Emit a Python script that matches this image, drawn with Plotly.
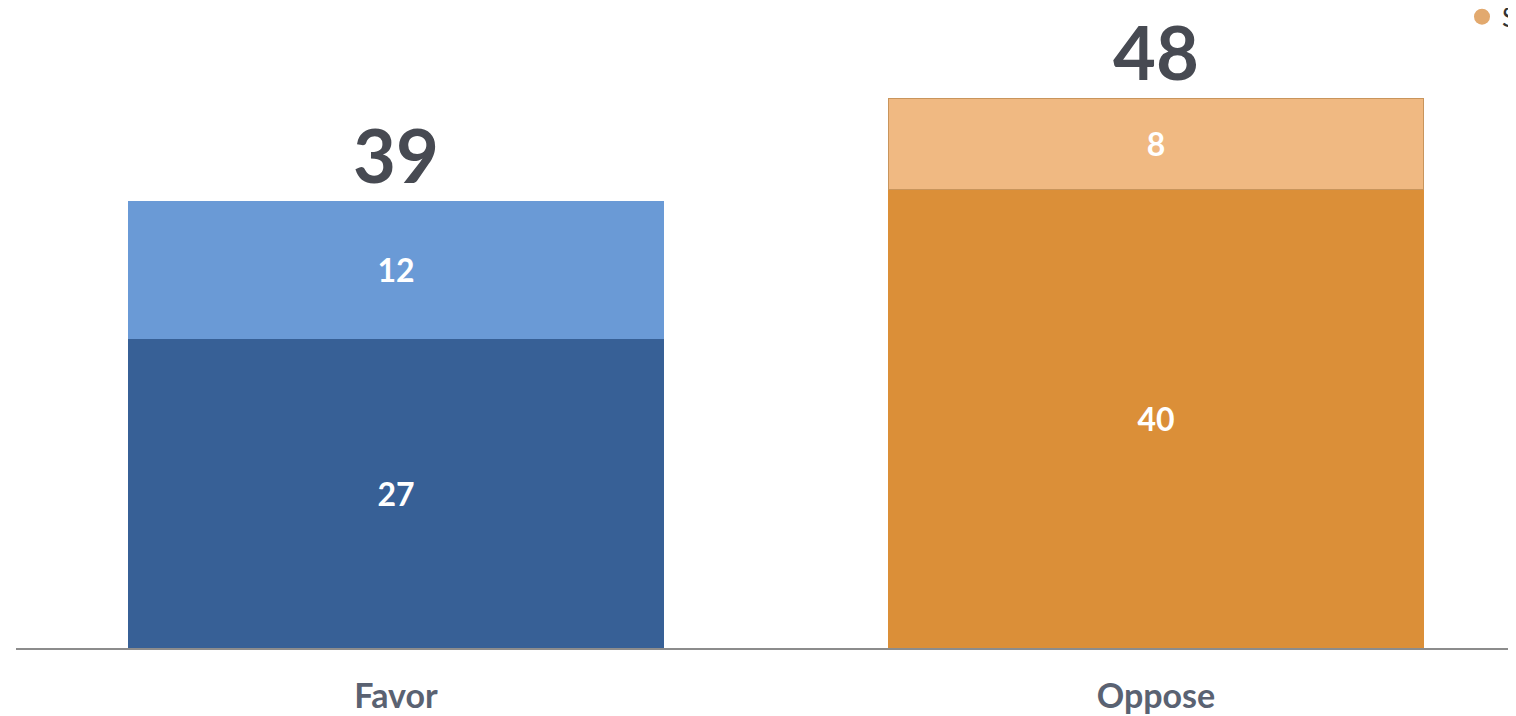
import plotly.graph_objects as go

# survey answers, stacked: strong share at the bottom, softer share on top
categories = ['Favor', 'Oppose']
strong = [27, 40]
somewhat = [12, 8]
totals = [39, 48]

strong_colors = ['#376096', '#DB8F38']
somewhat_colors = ['#6A9AD6', '#F0B982']
somewhat_lines = ['#6A9AD6', '#C9955C']

font_family = 'Lato, Open Sans, sans-serif'

fig = go.Figure()

fig.add_trace(go.Bar(
    x=categories, y=strong, name='Strongly',
    marker=dict(color=strong_colors, line=dict(width=0)),
    text=strong, textposition='inside', insidetextanchor='middle',
    textfont=dict(size=32, color='white', family=font_family, weight='bold'),
    constraintext='none', width=0.705, showlegend=False,
))

fig.add_trace(go.Bar(
    x=categories, y=somewhat, name='Somewhat',
    marker=dict(color=somewhat_colors, line=dict(width=1, color=somewhat_lines)),
    text=somewhat, textposition='inside', insidetextanchor='middle',
    textfont=dict(size=32, color='white', family=font_family, weight='bold'),
    constraintext='none', width=0.705, showlegend=False,
))

# totals above each stack
fig.add_trace(go.Scatter(
    x=categories, y=totals, mode='text', text=totals,
    textposition='top center',
    textfont=dict(size=74, color='#474A52', family=font_family, weight='bold'),
    showlegend=False, cliponaxis=False,
))

# legend entry, only the first letter is visible at the window edge
fig.add_trace(go.Scatter(
    x=[None], y=[None], mode='markers', name='Somewhat oppose',
    marker=dict(symbol='circle', size=26, color='#E2A96E'),
))

fig.update_layout(
    width=1508, height=708,
    margin=dict(l=8, r=0, t=0, b=68, autoexpand=False),
    barmode='stack',
    paper_bgcolor='white', plot_bgcolor='white',
    font=dict(family=font_family),
    legend=dict(
        x=0.964, y=1.023, xanchor='left', yanchor='top',
        orientation='h', bgcolor='rgba(0,0,0,0)',
        font=dict(size=26, color='#333333'),
    ),
)

fig.update_xaxes(
    range=[-0.5, 1.4737],
    showline=True, linecolor='#8C8C8C', linewidth=2,
    showgrid=False, ticks='',
    tickfont=dict(size=34, color='#5A6272', family=font_family, weight='bold'),
    ticklabelstandoff=17,
)
fig.update_yaxes(range=[0, 55.86], visible=False)

fig.write_html("out.html")
